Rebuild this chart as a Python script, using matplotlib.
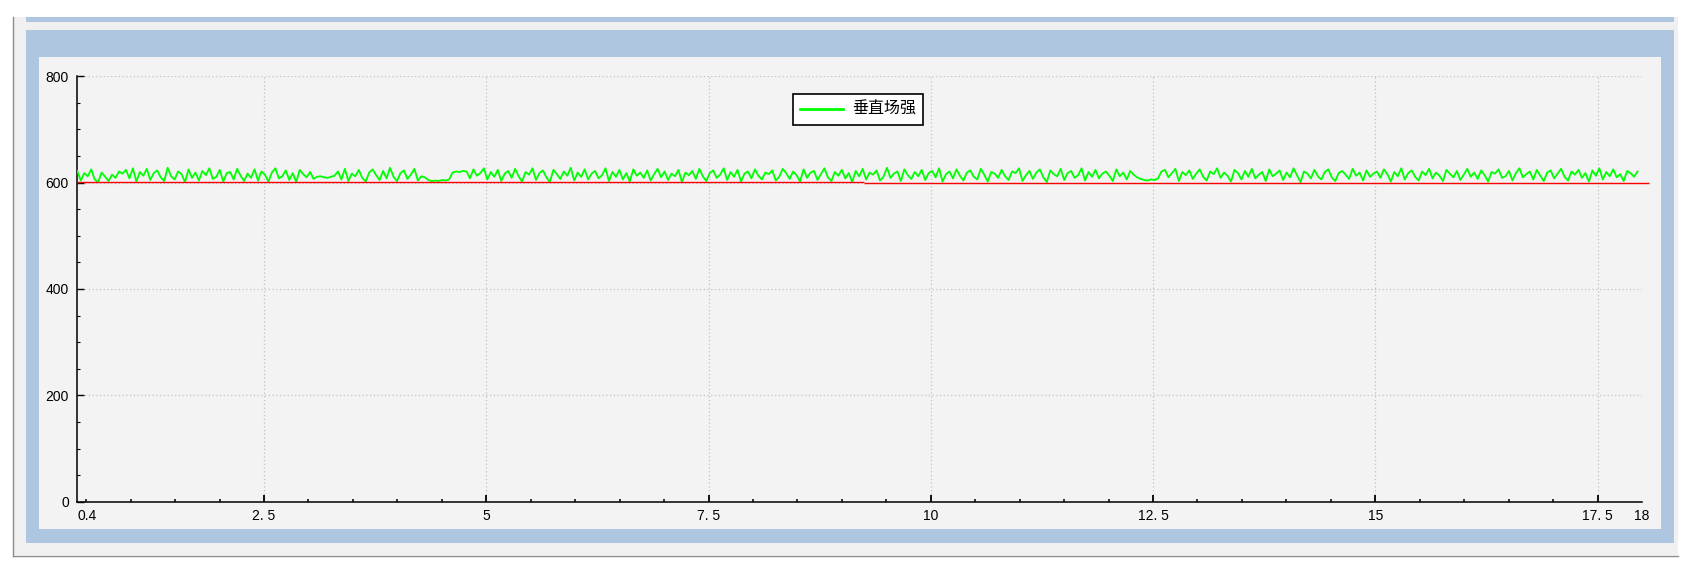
import numpy as np
import matplotlib
matplotlib.use('Agg')
import matplotlib.pyplot as plt
from matplotlib.patches import Rectangle
from matplotlib.lines import Line2D

# 数据: 垂直场强 采样值
field_values = [
    622, 604, 618, 612, 625, 606, 601, 619, 611, 603, 615, 609, 621, 617, 624, 608, 627, 602, 620, 613, 626, 605, 618, 623, 610,
    603, 628, 612, 606, 621, 616, 601, 625, 609, 619, 604, 622, 614, 627, 607, 611, 624, 602, 618, 620, 606, 626, 613, 603, 617,
    609, 625, 604, 621, 615, 602, 619, 627, 608, 612, 623, 605, 618, 601, 624, 616, 610, 620, 607, 611, 612, 610, 609, 611, 613,
    621, 606, 626, 603, 617, 612, 624, 609, 602, 619, 625, 614, 605, 622, 608, 628, 611, 603, 618, 623, 607, 615, 626, 604, 612,
    610, 605, 603, 604, 603, 605, 604, 606, 619, 621, 620, 622, 621, 608, 625, 613, 618, 627, 606, 620, 611, 624, 603, 617, 622,
    609, 626, 612, 602, 620, 615, 627, 605, 618, 623, 610, 601, 624, 616, 607, 621, 613, 628, 604, 619, 611, 625, 606, 617, 622,
    608, 614, 627, 603, 620, 611, 624, 606, 618, 602, 625, 613, 619, 609, 623, 604, 616, 626, 610, 621, 605, 617, 612, 624, 601,
    619, 614, 622, 607, 626, 612, 603, 618, 623, 609, 615, 627, 605, 620, 611, 624, 602, 617, 621, 608, 625, 613, 606, 619, 616,
    623, 604, 611, 626, 618, 607, 621, 614, 602, 625, 609, 619, 622, 605, 616, 627, 610, 603, 620, 613, 624, 608, 618, 601, 622,
    612, 626, 606, 619, 615, 623, 604, 611, 628, 609, 617, 621, 603, 625, 614, 607, 620, 612, 624, 605, 618, 622, 610, 627, 602,
    616, 621, 608, 625, 613, 604, 619, 623, 611, 606, 626, 615, 602, 620, 617, 609, 624, 612, 605, 621, 618, 627, 603, 614, 622,
    607, 619, 625, 610, 601, 623, 616, 612, 626, 605, 618, 622, 609, 614, 627, 604, 620, 611, 624, 608, 617, 621, 613, 603, 625,
    612, 619, 606, 622, 615, 610, 607, 605, 604, 606, 605, 608, 621, 624, 610, 618, 626, 603, 620, 614, 623, 607, 617, 625, 611,
    604, 621, 616, 627, 609, 619, 613, 602, 624, 618, 606, 622, 611, 626, 608, 615, 620, 603, 625, 612, 617, 623, 605, 619, 610,
    627, 614, 601, 621, 617, 608, 624, 612, 606, 620, 625, 610, 603, 618, 622, 615, 607, 626, 613, 619, 604, 623, 611, 617, 621,
    609, 625, 616, 602, 620, 612, 627, 606, 618, 623, 611, 604, 621, 614, 626, 608, 619, 613, 603, 624, 617, 610, 622, 605, 615,
    626, 611, 619, 607, 623, 614, 602, 620, 617, 625, 609, 612, 622, 604, 618, 627, 610, 616, 621, 606, 624, 613, 603, 619, 623,
    608, 617, 626, 611, 604, 621, 615, 624, 609, 618, 602, 623, 613, 627, 606, 620, 612, 625, 610, 616, 603, 622, 618, 611, 621,
]
t_start, t_end = 0.4, 17.95

# 红色阈值线 (两段)
red_starts = [0.4, 9.25]
red_ends = [9.25, 18.08]
red_levels = [600.8, 598.8]

x_major = [0.4, 2.5, 5, 7.5, 10, 12.5, 15, 17.5, 18]
x_labels = ['0.4', '2. 5', '5', '7. 5', '10', '12. 5', '15', '17. 5', '18']
y_major = [0, 200, 400, 600, 800]

W, H = 1690, 576
fig = plt.figure(figsize=(W / 100, H / 100), dpi=100)
fig.patch.set_facecolor('white')

def box(x0, y0, x1, y1, color):
    fig.add_artist(Rectangle((x0 / W, 1 - y1 / H), (x1 - x0) / W, (y1 - y0) / H,
                             transform=fig.transFigure, facecolor=color,
                             edgecolor='none', zorder=-10))

def fline(xs, ys, color, lw):
    fig.add_artist(Line2D([x / W for x in xs], [1 - y / H for y in ys],
                          transform=fig.transFigure, color=color, lw=lw, zorder=-9))

blue = '#aec6df'
box(13, 17, 1678, 555, '#f0f0f0')
fline([13.5, 13.5], [17, 555.5], '#8c8c8c', 1.0)
fline([13, 1678], [555.5, 555.5], '#8c8c8c', 1.0)
box(26, 17, 1674, 22, blue)
box(26, 30, 1674, 543, blue)
box(39, 57, 1661, 529, '#f3f3f3')

# 坐标轴
left, right, top, bottom = 77.3, 1642, 76.3, 501.7
ax = fig.add_axes([left / W, 1 - bottom / H, (right - left) / W, (bottom - top) / H])
ax.set_facecolor('#f3f3f3')
ax.set_xlim(0.4, 18)
ax.set_ylim(0, 800)

t = np.linspace(t_start, t_end, len(field_values))
ax.plot(t, field_values, color='#00ff00', lw=1.3, label='垂直场强', zorder=3)
ax.hlines(red_levels, red_starts, red_ends, colors='#ff0000', lw=1.0, zorder=4, clip_on=False)

for s in ['top', 'right']:
    ax.spines[s].set_visible(False)
for s in ['left', 'bottom']:
    ax.spines[s].set_linewidth(1.1)
    ax.spines[s].set_color('black')

ax.set_xticks(x_major)
ax.set_xticklabels(x_labels)
ax.set_xticks(np.arange(0.5, 18.01, 0.5), minor=True)
ax.set_yticks(y_major)
ax.set_yticks(np.arange(0, 801, 50), minor=True)

ax.tick_params(which='major', direction='in', length=5.2, width=1.3, colors='black',
               labelsize=10, pad=5)
ax.tick_params(which='minor', direction='in', length=2.4, width=1.1, colors='black')
ax.tick_params(axis='y', which='major', width=1.0, pad=6)
ax.tick_params(axis='y', which='minor', width=0.8)
for lab in ax.get_xticklabels() + ax.get_yticklabels():
    lab.set_family(['Liberation Sans', 'DejaVu Sans'])

ax.grid(True, which='major', color='#c0c0c0', linestyle=(0, (1, 2)), lw=0.9)
ax.set_axisbelow(True)
xt = ax.xaxis.get_major_ticks()
for k in (0, -1):
    xt[k].tick1line.set_visible(False)
    xt[k].gridline.set_visible(False)
xt[0].label1.set_horizontalalignment('left')
ax.yaxis.get_major_ticks()[0].gridline.set_visible(False)

leg = ax.legend(loc='upper left', bbox_to_anchor=(792.7 / W, 1 - 94 / H),
                bbox_transform=fig.transFigure, borderaxespad=0,
                prop={'family': ['Noto Sans CJK SC', 'DejaVu Sans'], 'size': 11.5},
                frameon=True, fancybox=False, framealpha=1, edgecolor='black',
                handlelength=2.7, handletextpad=0.55, borderpad=0.45)
leg.get_frame().set_linewidth(1.2)
leg.get_frame().set_facecolor('white')
for ln in leg.get_lines():
    ln.set_linewidth(2.0)

fig.savefig('out.png', dpi=100, facecolor='white')
